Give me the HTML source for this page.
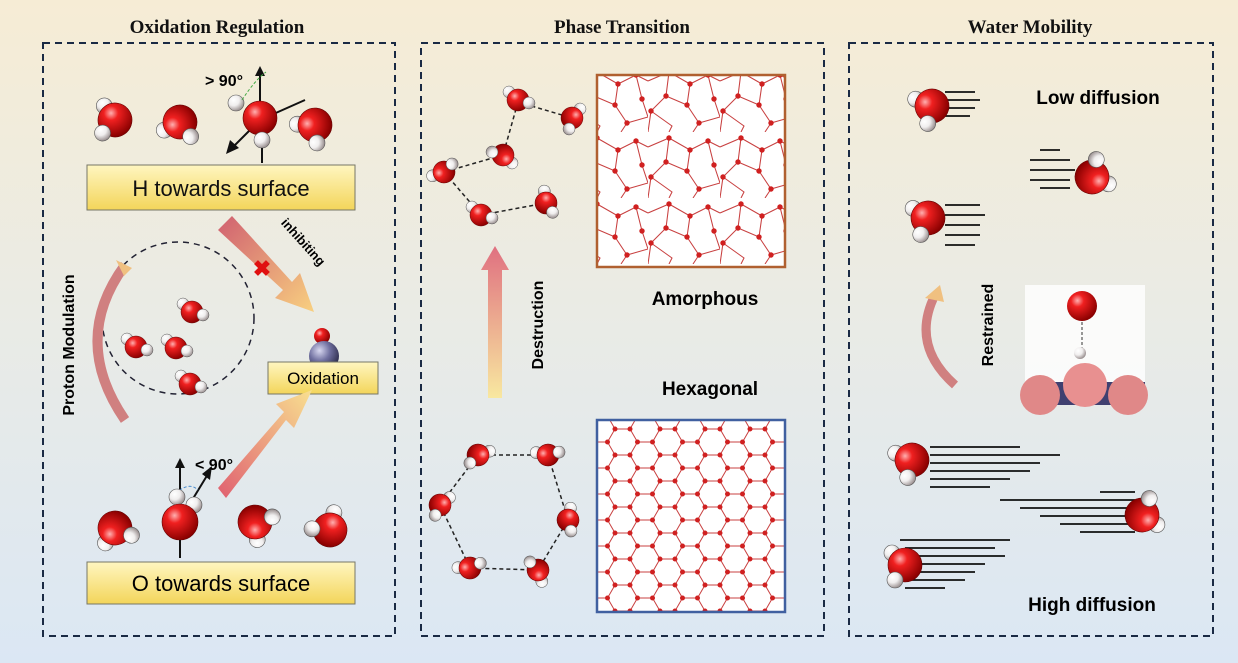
<!DOCTYPE html>
<html><head><meta charset="utf-8"><style>
body{margin:0;width:1238px;height:663px;overflow:hidden;background:linear-gradient(#f6ecd5,#e9ebe6 50%,#dbe7f4);}
svg{display:block}
</style></head><body>
<svg width="1238" height="663" viewBox="0 0 1238 663" xmlns="http://www.w3.org/2000/svg">
<defs>
<radialGradient id="ro" cx="35%" cy="32%" r="70%"><stop offset="0" stop-color="#ffb0b0"/><stop offset="0.3" stop-color="#f02020"/><stop offset="1" stop-color="#8a0000"/></radialGradient>
<radialGradient id="rh" cx="35%" cy="32%" r="70%"><stop offset="0" stop-color="#fff"/><stop offset="0.5" stop-color="#f0eeee"/><stop offset="1" stop-color="#9a9090"/></radialGradient>
<radialGradient id="rp" cx="35%" cy="32%" r="70%"><stop offset="0" stop-color="#d8d8f0"/><stop offset="0.5" stop-color="#7070a0"/><stop offset="1" stop-color="#303050"/></radialGradient>
<linearGradient id="yb" x1="0" y1="0" x2="0" y2="1"><stop offset="0" stop-color="#fff6c0"/><stop offset="1" stop-color="#f3d55a"/></linearGradient>
<linearGradient id="ar1" x1="0" y1="0" x2="1" y2="1"><stop offset="0" stop-color="#d06070"/><stop offset="1" stop-color="#f8d080"/></linearGradient>
<linearGradient id="ar2" x1="0" y1="1" x2="1" y2="0"><stop offset="0" stop-color="#e06070"/><stop offset="1" stop-color="#f8e090"/></linearGradient>
<linearGradient id="ar3" x1="0" y1="1" x2="0" y2="0"><stop offset="0" stop-color="#f8e8a0"/><stop offset="1" stop-color="#e07080"/></linearGradient>
<g id="w"><circle cx="-13" cy="-12" r="8" fill="url(#rh)" stroke="#555" stroke-width="0.6"/><circle cx="0" cy="0" r="17" fill="url(#ro)" stroke="#600" stroke-width="0.6"/><circle cx="-10" cy="15" r="8" fill="url(#rh)" stroke="#555" stroke-width="0.6"/></g>
<g id="ws"><circle cx="-9" cy="-8" r="6" fill="url(#rh)" stroke="#555" stroke-width="0.5"/><circle cx="0" cy="0" r="11" fill="url(#ro)" stroke="#600" stroke-width="0.5"/><circle cx="11" cy="3" r="6" fill="url(#rh)" stroke="#555" stroke-width="0.5"/></g>
<pattern id="hex" width="45" height="26" patternUnits="userSpaceOnUse">
<path d="M0 13 L7.5 0 L22.5 0 L30 13 L22.5 26 L7.5 26 Z M30 13 L45 13" fill="none" stroke="#c84040" stroke-width="1"/>
<g fill="#d02020"><circle cx="7.5" cy="0" r="2.5"/><circle cx="22.5" cy="0" r="2.5"/><circle cx="0" cy="13" r="2.5"/><circle cx="30" cy="13" r="2.5"/><circle cx="45" cy="13" r="2.5"/><circle cx="7.5" cy="26" r="2.5"/><circle cx="22.5" cy="26" r="2.5"/></g>
</pattern>
<pattern id="amo" width="48" height="44" patternUnits="userSpaceOnUse" patternTransform="scale(1.5)">
<path d="M0 10 L14 4 L28 12 L40 6 L48 10 M14 4 L12 20 L2 30 L0 44 M12 20 L26 26 L28 12 M26 26 L34 38 L48 34 M40 6 L44 22 L48 34 M2 30 L16 40 L14 44 M34 38 L30 44" fill="none" stroke="#c84040" stroke-width="0.7"/>
<g fill="#d02020"><circle cx="14" cy="4" r="1.8"/><circle cx="28" cy="12" r="1.8"/><circle cx="12" cy="20" r="1.8"/><circle cx="26" cy="26" r="1.8"/><circle cx="44" cy="22" r="1.8"/><circle cx="2" cy="30" r="1.8"/><circle cx="34" cy="38" r="1.8"/><circle cx="40" cy="6" r="1.8"/></g>
</pattern>
</defs>
<g font-family="Liberation Serif, serif" font-weight="bold" font-size="19" text-anchor="middle" fill="#111">
<text x="217" y="33">Oxidation Regulation</text><text x="622" y="33">Phase Transition</text><text x="1030" y="33">Water Mobility</text></g>
<g fill="none" stroke="#1a2a44" stroke-width="2" stroke-dasharray="7,5">
<rect x="43" y="43" width="352" height="593"/><rect x="421" y="43" width="403" height="593"/><rect x="849" y="43" width="364" height="593"/></g>

<!-- panel 1 -->
<use href="#w" transform="translate(115,120) rotate(10)"/>
<use href="#w" transform="translate(180,122) rotate(-70)"/>
<line x1="260" y1="120" x2="260" y2="72" stroke="#111" stroke-width="2"/><polygon points="255,76 260,66 265,76" fill="#111"/>
<line x1="260" y1="120" x2="305" y2="100" stroke="#111" stroke-width="2"/>
<line x1="260" y1="120" x2="232" y2="148" stroke="#111" stroke-width="2"/><polygon points="230,140 226,154 239,148" fill="#111"/>
<circle cx="236" cy="103" r="8" fill="url(#rh)" stroke="#555" stroke-width="0.6"/>
<circle cx="260" cy="118" r="17" fill="url(#ro)" stroke="#600" stroke-width="0.6"/>
<circle cx="262" cy="140" r="8" fill="url(#rh)" stroke="#555" stroke-width="0.6"/>
<line x1="262" y1="148" x2="262" y2="163" stroke="#111" stroke-width="2"/>
<path d="M242 100 Q255 80 266 72" fill="none" stroke="#4a4" stroke-dasharray="3,2"/>
<text x="205" y="86" font-family="Liberation Sans,sans-serif" font-weight="bold" font-size="16">&gt; 90°</text>
<use href="#w" transform="translate(315,125) rotate(-40)"/>
<rect x="87" y="165" width="268" height="45" fill="url(#yb)" stroke="#776" stroke-width="1"/>
<text x="221" y="196" text-anchor="middle" font-family="Liberation Sans,sans-serif" font-size="22" fill="#111">H towards surface</text>
<polygon points="218,230 232,216 292,282 300,273 314,312 275,298 283,290" fill="url(#ar1)"/>
<text x="262" y="276" font-family="Liberation Sans,sans-serif" font-size="22" font-weight="bold" fill="#e01010" text-anchor="middle">✖</text>
<text x="300" y="245" transform="rotate(48 300 245)" font-family="Liberation Sans,sans-serif" font-weight="bold" font-size="13" text-anchor="middle">inhibiting</text>
<circle cx="178" cy="318" r="76" fill="none" stroke="#223" stroke-width="1.5" stroke-dasharray="6,5"/>
<use href="#ws" transform="translate(192,312)"/><use href="#ws" transform="translate(136,347)"/><use href="#ws" transform="translate(176,348)"/><use href="#ws" transform="translate(190,384)"/>
<path d="M125 420 Q70 340 125 265" fill="none" stroke="#d08080" stroke-width="10"/><polygon points="116,260 132,268 124,276" fill="#f0c080"/>
<text x="74" y="345" transform="rotate(-90 74 345)" font-family="Liberation Sans,sans-serif" font-weight="bold" font-size="16" text-anchor="middle">Proton Modulation</text>
<line x1="324" y1="357" x2="303" y2="378" stroke="#111" stroke-width="2"/><line x1="324" y1="357" x2="345" y2="378" stroke="#111" stroke-width="2"/><line x1="324" y1="357" x2="324" y2="378" stroke="#111" stroke-width="2"/>
<circle cx="322" cy="336" r="8" fill="url(#ro)"/>
<circle cx="324" cy="356" r="15" fill="url(#rp)"/>
<rect x="268" y="362" width="110" height="32" fill="url(#yb)" stroke="#776"/>
<text x="323" y="384" text-anchor="middle" font-family="Liberation Sans,sans-serif" font-size="17">Oxidation</text>
<polygon points="218,488 226,498 286,420 294,428 312,390 276,404 284,412" fill="url(#ar2)"/>
<line x1="180" y1="520" x2="180" y2="464" stroke="#111" stroke-width="2"/><polygon points="175,468 180,458 185,468" fill="#111"/>
<line x1="180" y1="520" x2="208" y2="474" stroke="#111" stroke-width="2"/><polygon points="202,474 212,466 210,480" fill="#111"/>
<path d="M172 497 Q188 480 198 490" fill="none" stroke="#48c" stroke-dasharray="3,2"/>
<text x="195" y="470" font-family="Liberation Sans,sans-serif" font-weight="bold" font-size="16">&lt; 90°</text>
<use href="#w" transform="translate(115,528) rotate(-100)"/>
<circle cx="177" cy="497" r="8" fill="url(#rh)" stroke="#555" stroke-width="0.6"/>
<circle cx="194" cy="505" r="8" fill="url(#rh)" stroke="#555" stroke-width="0.6"/>
<circle cx="180" cy="522" r="18" fill="url(#ro)" stroke="#600" stroke-width="0.6"/>
<line x1="180" y1="540" x2="180" y2="558" stroke="#111" stroke-width="2"/>
<use href="#w" transform="translate(255,522) rotate(-140)"/>
<use href="#w" transform="translate(330,530) rotate(60)"/>
<rect x="87" y="562" width="268" height="42" fill="url(#yb)" stroke="#776"/>
<text x="221" y="591" text-anchor="middle" font-family="Liberation Sans,sans-serif" font-size="22">O towards surface</text>

<!-- panel 2 -->
<g stroke="#222" stroke-dasharray="4,3" stroke-width="1.5" fill="none">
<path d="M518 102 L572 118 M518 102 L503 155 M503 155 L444 172 M444 172 L481 215 M481 215 L546 203"/>
<path d="M478 455 L548 455 L568 520 L538 570 L470 568 L440 505 Z"/></g>
<use href="#ws" transform="translate(518,100)"/><use href="#ws" transform="translate(572,118) rotate(90)"/><use href="#ws" transform="translate(503,155) rotate(180)"/><use href="#ws" transform="translate(444,172) rotate(-60)"/><use href="#ws" transform="translate(481,215)"/><use href="#ws" transform="translate(546,203) rotate(40)"/>
<use href="#ws" transform="translate(478,455) rotate(120)"/><use href="#ws" transform="translate(548,455) rotate(-30)"/><use href="#ws" transform="translate(568,520) rotate(60)"/><use href="#ws" transform="translate(538,570) rotate(-150)"/><use href="#ws" transform="translate(470,568) rotate(-40)"/><use href="#ws" transform="translate(440,505) rotate(100)"/>
<rect x="597" y="75" width="188" height="192" fill="#fff"/><rect x="597" y="75" width="188" height="192" fill="url(#amo)" stroke="#b06030" stroke-width="2.5"/>
<text x="705" y="305" text-anchor="middle" font-family="Liberation Sans,sans-serif" font-weight="bold" font-size="19">Amorphous</text>
<polygon points="488,398 502,398 502,270 509,270 495,246 481,270 488,270" fill="url(#ar3)"/>
<text x="543" y="325" transform="rotate(-90 543 325)" text-anchor="middle" font-family="Liberation Sans,sans-serif" font-weight="bold" font-size="16">Destruction</text>
<text x="710" y="395" text-anchor="middle" font-family="Liberation Sans,sans-serif" font-weight="bold" font-size="19">Hexagonal</text>
<rect x="597" y="420" width="188" height="192" fill="#fff"/><rect x="597" y="420" width="188" height="192" fill="url(#hex)" stroke="#4060a0" stroke-width="2.5"/>

<!-- panel 3 -->
<g stroke="#111" stroke-width="1.8">
<path d="M945 92 h30 M945 100 h35 M945 108 h30 M945 116 h25 M1030 160 h40 M1030 170 h45 M1030 180 h40 M1040 188 h30 M1040 150 h20"/>
<path d="M945 205 h35 M945 215 h40 M945 225 h35 M945 235 h35 M945 245 h30"/>
<path d="M930 447 h90 M930 455 h130 M930 463 h110 M930 471 h100 M930 479 h80 M930 487 h60"/>
<path d="M1000 500 h135 M1020 508 h115 M1040 516 h95 M1060 524 h75 M1080 532 h55 M1100 492 h35"/>
<path d="M900 540 h110 M905 548 h90 M905 556 h100 M905 564 h80 M905 572 h70 M905 580 h60 M905 588 h40"/></g>
<use href="#w" transform="translate(932,106) rotate(-20)"/>
<use href="#w" transform="translate(1092,177) rotate(160)"/>
<use href="#w" transform="translate(928,218) rotate(-10)"/>
<use href="#w" transform="translate(912,460) rotate(-20)"/>
<use href="#w" transform="translate(1142,515) rotate(170)"/>
<use href="#w" transform="translate(905,565) rotate(0)"/>
<text x="1098" y="104" text-anchor="middle" font-family="Liberation Sans,sans-serif" font-weight="bold" font-size="19">Low diffusion</text>
<text x="1092" y="611" text-anchor="middle" font-family="Liberation Sans,sans-serif" font-weight="bold" font-size="19">High diffusion</text>
<path d="M955 385 Q910 345 935 295" fill="none" stroke="#d08080" stroke-width="9"/><polygon points="925,298 940,285 944,302" fill="#f0c080"/>
<text x="993" y="325" transform="rotate(-90 993 325)" text-anchor="middle" font-family="Liberation Sans,sans-serif" font-weight="bold" font-size="16">Restrained</text>
<rect x="1025" y="285" width="120" height="120" fill="#fff" opacity="0.8"/>
<line x1="1082" y1="322" x2="1082" y2="348" stroke="#333" stroke-dasharray="3,2"/>
<circle cx="1082" cy="306" r="15" fill="url(#ro)"/>
<circle cx="1080" cy="353" r="6" fill="url(#rh)"/>
<rect x="1025" y="382" width="120" height="23" fill="#404070"/>
<circle cx="1040" cy="395" r="20" fill="#e08888"/><circle cx="1085" cy="385" r="22" fill="#e89090"/><circle cx="1128" cy="395" r="20" fill="#e08888"/>
</svg>
</body></html>
